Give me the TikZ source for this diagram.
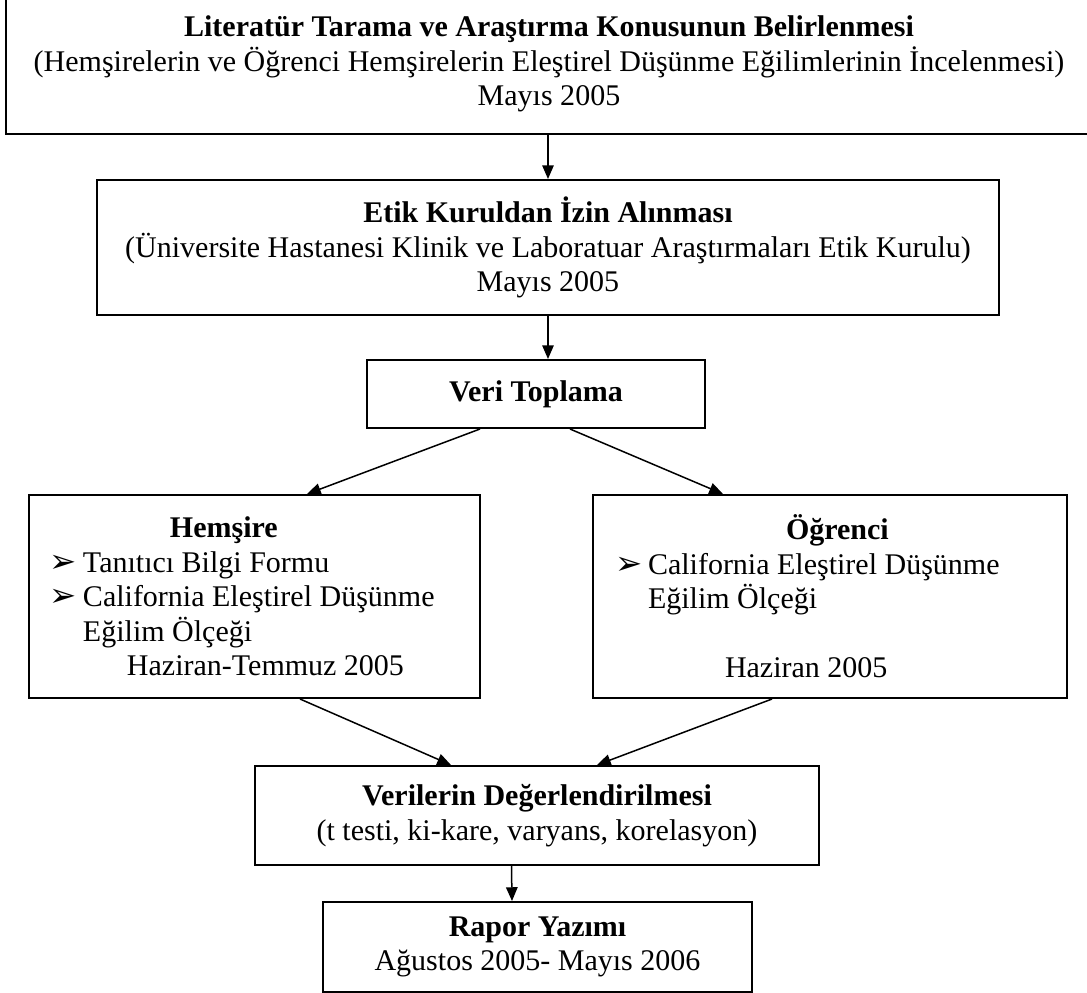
\documentclass[tikz,border=0pt]{standalone}
\usepackage{fontspec}
\setmainfont{Liberation Serif}
\newfontfamily\dingfont{DejaVu Sans}
\usetikzlibrary{arrows.meta,calc}
\newdimen\px \px=0.4pt
\newcommand{\madde}{\makebox[33\px][l]{\dingfont\fontsize{13}{13}\selectfont ➢}}
\begin{document}
\begin{tikzpicture}[x=0.4pt, y=-0.4pt, font=\fontsize{12}{13.8}\selectfont,
box/.style={draw, line width=0.8pt, inner sep=0pt, align=center},
flow/.style={line width=0.6pt, -{Triangle[length=5.5pt,width=4.6pt]}}]
\useasboundingbox (0,0) rectangle (1087,993);
\node[box, minimum width=1086\px, minimum height=140\px] (lit) at (549,64)
  {\textbf{Literatür Tarama ve Araştırma Konusunun Belirlenmesi}\\
   (Hemşirelerin ve Öğrenci Hemşirelerin Eleştirel Düşünme Eğilimlerinin İncelenmesi)\\
   Mayıs 2005};
\node[box, minimum width=902\px, minimum height=135\px] (etik) at (548,247.5)
  {\textbf{Etik Kuruldan İzin Alınması}\\
   (Üniversite Hastanesi Klinik ve Laboratuar Araştırmaları Etik Kurulu)\\
   Mayıs 2005};
\node[box, minimum width=338\px, minimum height=68\px] (veri) at (536,394)
  {\textbf{Veri Toplama}};
\node[box, align=flush left, text width=409\px, inner xsep=21\px, minimum width=451\px, minimum height=203\px] (hem) at (254.5,596.5)
  {\hspace*{120\px}\textbf{Hemşire}\\
   \madde Tanıtıcı Bilgi Formu\\
   \madde California Eleştirel Düşünme\\
   \hspace*{33\px}Eğilim Ölçeği\\
   \hspace*{77\px}Haziran-Temmuz 2005};
\node[box, align=flush left, text width=430\px, inner xsep=22\px, minimum width=474\px, minimum height=203\px] (ogr) at (830,596.5)
  {\hspace*{171\px}\textbf{Öğrenci}\\
   \madde California Eleştirel Düşünme\\
   \hspace*{33\px}Eğilim Ölçeği\\
   \mbox{}\\
   \hspace*{110\px}Haziran 2005};
\node[box, minimum width=564\px, minimum height=99\px] (deger) at (537,815.5)
  {\textbf{Verilerin Değerlendirilmesi}\\
   (t testi, ki-kare, varyans, korelasyon)};
\node[box, minimum width=429\px, minimum height=90\px] (rapor) at (537.5,947)
  {\textbf{Rapor Yazımı}\\
   Ağustos 2005- Mayıs 2006};

\draw[flow] (etik.north |- lit.south) -- (etik.north);
\draw[flow] (etik.south) -- (etik.south |- veri.north);
\draw[flow] ($(veri.south)+(-56,0)$) -- ($(hem.north)+(52.5,0)$);
\draw[flow] ($(veri.south)+(34,0)$) -- ($(ogr.north)+(-107,0)$);
\draw[flow] ($(hem.south)+(45.5,0)$) -- ($(deger.north)+(-86,0)$);
\draw[flow] ($(ogr.south)+(-58,0)$) -- ($(deger.north)+(60,0)$);
\draw[flow] ($(deger.south)+(-25.5,0)$) -- ($(rapor.north)+(-25.5,0)$);
\end{tikzpicture}
\end{document}
